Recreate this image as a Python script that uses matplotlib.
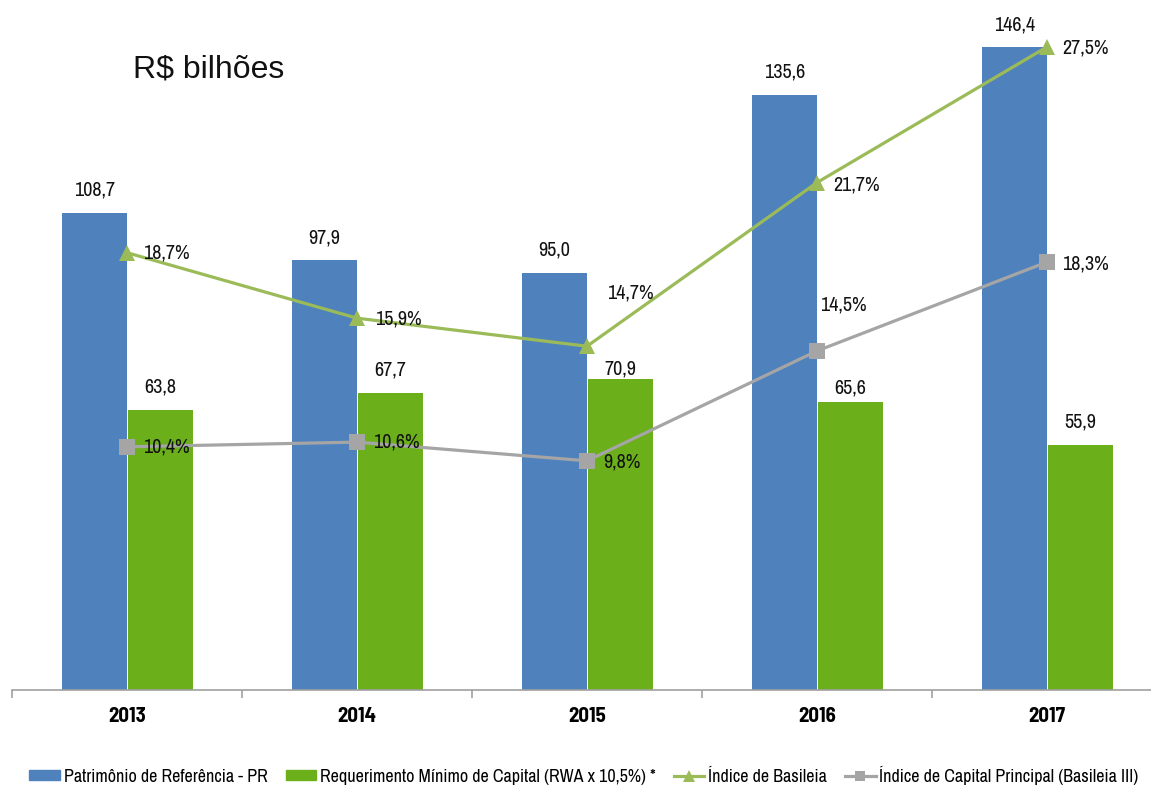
import matplotlib
matplotlib.use("Agg")
import matplotlib.pyplot as plt
import numpy as np
from matplotlib.patches import Patch
from matplotlib.lines import Line2D

# --- data -------------------------------------------------------------
anos = ["2013", "2014", "2015", "2016", "2017"]
patrimonio_pr = [108.7, 97.9, 95.0, 135.6, 146.4]          # R$ bilhões
requerimento_min = [63.8, 67.7, 70.9, 65.6, 55.9]          # R$ bilhões
indice_basileia = [18.7, 15.9, 14.7, 21.7, 27.5]           # %
indice_capital_principal = [10.4, 10.6, 9.8, 14.5, 18.3]   # %

legenda = [
    "Patrimônio de Referência - PR",
    "Requerimento Mínimo de Capital (RWA x 10,5%) *",
    "Índice de Basileia",
    "Índice de Capital Principal (Basileia III)",
]

# --- style ------------------------------------------------------------
AZUL = "#4F81BD"
VERDE_BARRA = "#6BAF1A"
VERDE_LINHA = "#9BBB59"
CINZA = "#A5A5A5"
NARROW = ["Archivo Narrow", "DejaVu Sans"]
NARROW_BOLD = ["Barlow Semi Condensed", "DejaVu Sans"]
plt.rcParams["font.family"] = NARROW

def fmt(v, pct=False):
    s = f"{v:.1f}".replace(".", ",")
    return s + "%" if pct else s

# label offsets in pixels (dx, dy), positive dy = up
off_pr = [13, 13, 13, 13, 13]
off_req = [13, 13, 0, 4, 13]
off_bas = [(16, 0), (18, -1), (20, 53), (16, -2), (15, -1)]
off_cap = [(16, 0), (16, 0), (16, -1), (3, 46), (15, -2)]

LABEL_FS = 14.5

W, H, DPI = 1151, 790, 100
fig = plt.figure(figsize=(W / DPI, H / DPI), dpi=DPI)

# axes: baseline at y=690 px, left at x=12 px, 230 px per category
y_base = 690
y_top = 9.5
ax = fig.add_axes([12 / W, (H - y_base) / H, 1150 / W, (y_base - y_top) / H])
x = np.arange(len(anos))
bw = 0.283
ax.bar(x - 0.141, patrimonio_pr, bw, color=AZUL, zorder=2)
ax.bar(x + 0.145, requerimento_min, bw, color=VERDE_BARRA, zorder=2)
ax.set_xlim(-0.5, len(anos) - 0.5)
ax.set_ylim(0, 155)

PX = 72 / DPI  # points per pixel
for xi, v, o in zip(x - 0.141, patrimonio_pr, off_pr):
    ax.annotate(fmt(v), (xi, v), xytext=(0, o * PX), textcoords="offset points",
                ha="center", va="bottom", fontsize=LABEL_FS, color="#111111")
for xi, v, o in zip(x + 0.145, requerimento_min, off_req):
    ax.annotate(fmt(v), (xi, v), xytext=(0, o * PX), textcoords="offset points",
                ha="center", va="bottom", fontsize=LABEL_FS, color="#111111")

# axis styling
for s in ["top", "right", "left"]:
    ax.spines[s].set_visible(False)
ax.spines["bottom"].set_color("#A0A0A0")
ax.spines["bottom"].set_linewidth(1.2)
ax.set_yticks([])
ax.set_xticks(np.arange(len(anos) + 1) - 0.5, minor=False)
ax.set_xticklabels([])
ax.tick_params(axis="x", which="major", direction="out", length=6, color="#A0A0A0", width=1.2)
ax.set_xticks(x, minor=True)
ax.set_xticklabels(anos, minor=True, fontsize=15, fontweight="bold", family=NARROW_BOLD)
ax.tick_params(axis="x", which="minor", length=0, pad=12)

# secondary axis for the ratios
ax2 = ax.twinx()
ax2.set_ylim(0, 29.1)
ax2.axis("off")
ax2.plot(x, indice_basileia, color=VERDE_LINHA, lw=2.3, marker="^", ms=12,
         markeredgewidth=0, zorder=3)
ax2.plot(x, indice_capital_principal, color=CINZA, lw=2.3, marker="s", ms=11,
         markeredgewidth=0, zorder=3)
for xi, v, (dx, dy) in zip(x, indice_basileia, off_bas):
    ax2.annotate(fmt(v, True), (xi, v), xytext=(dx * PX, dy * PX), textcoords="offset points",
                 ha="left", va="center", fontsize=LABEL_FS, color="#111111")
for xi, v, (dx, dy) in zip(x, indice_capital_principal, off_cap):
    ax2.annotate(fmt(v, True), (xi, v), xytext=(dx * PX, dy * PX), textcoords="offset points",
                 ha="left", va="center", fontsize=LABEL_FS, color="#111111")

fig.text(133 / W, 1 - 70 / H, "R$ bilhões", fontsize=23, family=["Liberation Sans", "DejaVu Sans"],
         ha="left", va="center", color="#111111")

handles = [
    Patch(color=AZUL),
    Patch(color=VERDE_BARRA),
    Line2D([], [], color=VERDE_LINHA, lw=2.3, marker="^", ms=8, markeredgewidth=0),
    Line2D([], [], color=CINZA, lw=2.3, marker="s", ms=7, markeredgewidth=0),
]
fig.legend(handles, legenda, loc="center", bbox_to_anchor=(584 / W, 1 - 775 / H), ncol=4,
           frameon=False, fontsize=13, handlelength=1.7, handleheight=0.5,
           columnspacing=1.0, handletextpad=0.2, borderpad=0.2)

fig.savefig("out.png", dpi=DPI)
